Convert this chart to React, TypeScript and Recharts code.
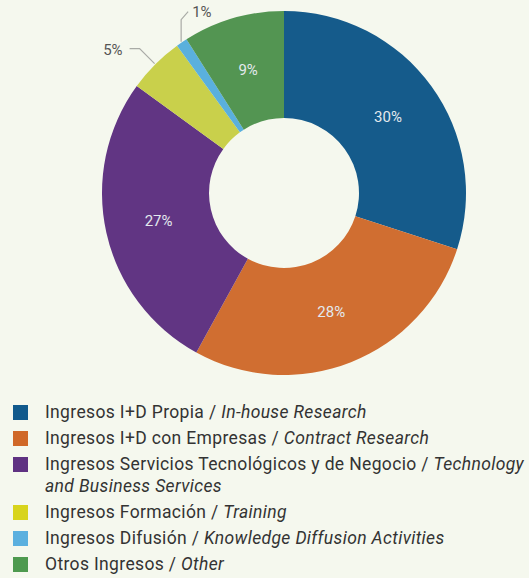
import { PieChart, Pie, Cell } from 'recharts';

const categories = [
  'Ingresos I+D Propia',
  'Ingresos I+D con Empresas',
  'Ingresos Servicios Tecnológicos y de Negocio',
  'Ingresos Formación',
  'Ingresos Difusión',
  'Otros Ingresos',
];
const englishNames = [
  'In-house Research',
  'Contract Research',
  'Technology and Business Services',
  'Training',
  'Knowledge Diffusion Activities',
  'Other',
];
const shares = [30, 28, 27, 5, 1, 9];
const sliceColors = ['#155b8b', '#d06e31', '#613583', '#c9d04b', '#5ab0dd', '#539552'];
const legendColors = ['#115a8c', '#d06828', '#5f3282', '#d8d41c', '#5bb0df', '#4e9a4f'];
// slices whose label sits outside with a leader line
const outsideLabels = [3, 4];

const data = categories.map((name, i) => ({ name, english: englishNames[i], value: shares[i] }));

const RAD = Math.PI / 180;
const FONT = 'Roboto, "DejaVu Sans", sans-serif';

function renderLabel(props: any) {
  const { cx, cy, midAngle, innerRadius, outerRadius, index, value } = props;
  const cos = Math.cos(-midAngle * RAD);
  const sin = Math.sin(-midAngle * RAD);
  if (!outsideLabels.includes(index)) {
    const r = (innerRadius + outerRadius) / 2;
    return (
      <text
        x={cx + r * cos}
        y={cy + r * sin}
        fill="#e3e9ee"
        fontSize={15}
        fontFamily={FONT}
        textAnchor="middle"
        dominantBaseline="central"
      >
        {`${value}%`}
      </text>
    );
  }
  const sx = cx + (outerRadius + 1) * cos;
  const sy = cy + (outerRadius + 1) * sin;
  if (index === 3) {
    const mx = sx - 15;
    const my = sy - 15;
    return (
      <g>
        <polyline points={`${sx},${sy} ${mx},${my} ${mx - 10},${my}`} fill="none" stroke="#a9aba6" strokeWidth={1.2} />
        <text x={mx - 17} y={my + 1} fill="#555" fontSize={15} fontFamily={FONT} textAnchor="end" dominantBaseline="central">
          {`${value}%`}
        </text>
      </g>
    );
  }
  const my = sy - 22;
  return (
    <g>
      <polyline points={`${sx},${sy} ${sx},${my} ${sx + 7},${my - 8}`} fill="none" stroke="#a9aba6" strokeWidth={1.2} />
      <text x={sx + 11} y={my - 8} fill="#555" fontSize={15} fontFamily={FONT} textAnchor="start" dominantBaseline="central">
        {`${value}%`}
      </text>
    </g>
  );
}

export default function App() {
  return (
    <div
      style={{
        position: 'absolute',
        left: 0,
        top: 0,
        width: 529,
        height: 578,
        background: '#f5f8ee',
        fontFamily: FONT,
        overflow: 'hidden',
      }}
    >
      <PieChart width={529} height={390} margin={{ top: 0, right: 0, bottom: 0, left: 0 }}>
        <Pie
          data={data}
          dataKey="value"
          cx={284}
          cy={193}
          innerRadius={75}
          outerRadius={182}
          startAngle={90}
          endAngle={-270}
          stroke="none"
          label={renderLabel}
          labelLine={false}
          isAnimationActive={false}
        >
          {data.map((d, i) => (
            <Cell key={d.name} fill={sliceColors[i]} />
          ))}
        </Pie>
      </PieChart>
      <div style={{ position: 'absolute', left: 13, top: 401, width: 516 }}>
        {data.map((d, i) => (
          <div key={d.name} style={{ display: 'flex', alignItems: 'flex-start', marginBottom: 4 }}>
            <div
              style={{
                width: 15,
                height: 15,
                background: legendColors[i],
                flex: '0 0 15px',
                marginTop: 4,
              }}
            />
            <div
              style={{
                marginLeft: 17,
                fontSize: 17.5,
                letterSpacing: 0.35,
                lineHeight: '22px',
                color: '#333',
              }}
            >
              {d.name} /{' '}
              {/* one span per word so a wrapped name keeps tight text boxes */}
              {d.english.split(' ').map((w, k) => (
                <span key={k}>
                  {k > 0 ? ' ' : ''}
                  <i>{w}</i>
                </span>
              ))}
            </div>
          </div>
        ))}
      </div>
    </div>
  );
}
